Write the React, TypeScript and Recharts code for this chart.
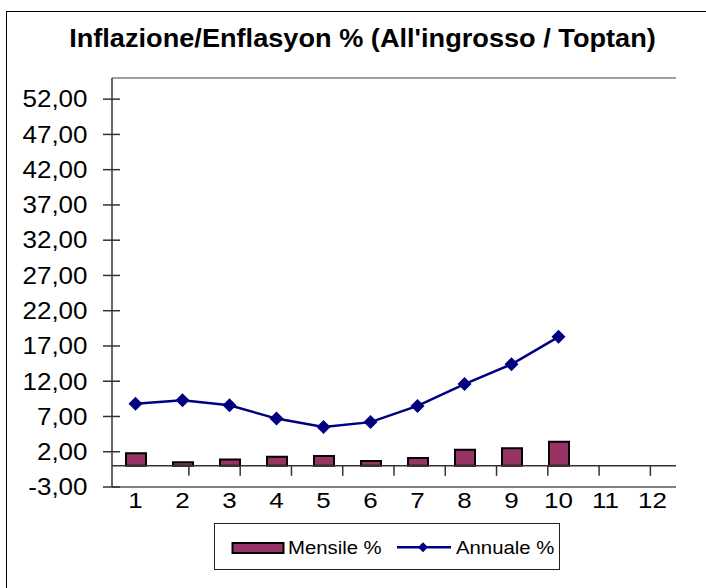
import { ComposedChart, Bar, Line, XAxis, YAxis, ReferenceLine, Legend } from 'recharts'

const months = ['1', '2', '3', '4', '5', '6', '7', '8', '9', '10', '11', '12']
const mensile = [1.8, 0.5, 0.9, 1.3, 1.4, 0.7, 1.1, 2.3, 2.5, 3.4, null, null]
const annuale = [8.8, 9.3, 8.6, 6.7, 5.5, 6.2, 8.5, 11.6, 14.4, 18.3, null, null]
const yTicks = [-3, 2, 7, 12, 17, 22, 27, 32, 37, 42, 47, 52]
const seriesNames = ['Mensile %', 'Annuale %']

const data = months.map((m, i) => ({ m, mensile: mensile[i], annuale: annuale[i] }))
// category boundaries, where Excel puts the x tick marks
const boundaries = months.map((_, i) => i + 1.5)

const FONT = '"Liberation Sans", Arial, sans-serif'
const BAR = '#993366'
const LINE = '#000080'

function fmt(v: number) {
  return v.toFixed(2).replace('.', ',')
}

function YTick(props: any) {
  const { x, y, payload } = props
  return (
    <g>
      <line x1={x - 9} x2={x + 8} y1={y} y2={y} stroke="#333" strokeWidth={1.5} />
      <text
        transform={`translate(${x - 24.5},${y + 8.3}) scale(1.13,1)`}
        textAnchor="end"
        fontSize={23}
        fontFamily={FONT}
        fill="#000"
      >
        {fmt(payload.value)}
      </text>
    </g>
  )
}

function XTick(props: any) {
  const { x, y, payload } = props
  return (
    <text
      transform={`translate(${x},${y + 20.5}) scale(1.18,1)`}
      textAnchor="middle"
      fontSize={22}
      fontFamily={FONT}
      fill="#000"
    >
      {payload.value}
    </text>
  )
}

function Diamond(props: any) {
  const { cx, cy } = props
  if (cx == null || cy == null || props.value == null) return null
  const r = 7
  return <polygon points={`${cx},${cy - r} ${cx + r},${cy} ${cx},${cy + r} ${cx - r},${cy}`} fill={LINE} />
}

function LegendBox() {
  return (
    <svg width={346} height={47} style={{ display: 'block' }}>
      <rect x={0.5} y={0.5} width={345} height={46} fill="#fff" stroke="#222" strokeWidth={1} />
      <rect x={18.5} y={20} width={51} height={10} fill={BAR} stroke="#000" strokeWidth={2} />
      <text transform="translate(74,30.5) scale(1.07,1)" fontSize={19} fontFamily={FONT} fill="#000">
        {seriesNames[0]}
      </text>
      <line x1={183} x2={237} y1={24.3} y2={24.3} stroke={LINE} strokeWidth={2.5} />
      <polygon points="209,19.3 214,24.3 209,29.3 204,24.3" fill={LINE} />
      <text transform="translate(242,30.5) scale(1.07,1)" fontSize={19} fontFamily={FONT} fill="#000">
        {seriesNames[1]}
      </text>
    </svg>
  )
}

export default function App() {
  return (
    <div style={{ position: 'fixed', left: 0, top: 0, width: 706, height: 588, background: '#fff', overflow: 'hidden' }}>
      <div
        style={{
          position: 'absolute', left: 6, top: 11, width: 700, height: 577,
          borderLeft: '1.5px solid #000', borderTop: '1.5px solid #000', boxSizing: 'border-box',
        }}
      />
      <div
        style={{
          position: 'absolute', left: 0, top: 22.7, width: 725, textAlign: 'center',
          fontFamily: FONT, fontWeight: 'bold', fontSize: 25.7, lineHeight: '30px',
          transform: 'scaleX(1.057)', transformOrigin: '362.5px 0',
        }}
      >
        Inflazione/Enflasyon % (All'ingrosso / Toptan)
      </div>
      <div style={{ position: 'absolute', left: 0, top: 0 }}>
        <ComposedChart width={706} height={588} data={data} margin={{ top: 78, right: 30, bottom: 61, left: 0 }}>
          <XAxis
            dataKey="m"
            height={40}
            axisLine={false}
            tickLine={false}
            tickSize={0}
            tickMargin={0}
            tick={<XTick />}
            interval={0}
          />
          <XAxis xAxisId="n" type="number" domain={[0.5, 12.5]} hide allowDataOverflow />
          <YAxis
            width={112}
            domain={[-3, 55]}
            ticks={yTicks}
            interval={0}
            allowDataOverflow
            axisLine={{ stroke: '#333', strokeWidth: 1.5 }}
            tickLine={false}
            tickSize={0}
            tickMargin={0}
            tick={<YTick />}
          />
          {/* plot area frame */}
          <ReferenceLine y={55} stroke="#808080" strokeWidth={1.5} />
          <ReferenceLine y={-3} stroke="#555" strokeWidth={1.5} />
          <ReferenceLine xAxisId="n" x={12.5} stroke="#808080" strokeWidth={1.5} />
          {/* zero axis with category tick marks */}
          <ReferenceLine y={0} stroke="#333" strokeWidth={1.5} />
          {boundaries.map((b) => (
            <ReferenceLine
              key={b}
              xAxisId="n"
              segment={[{ x: b, y: 0 }, { x: b, y: -1.42 }]}
              stroke="#333"
              strokeWidth={1.5}
            />
          ))}
          <Bar
            dataKey="mensile"
            name={seriesNames[0]}
            barSize={20}
            fill={BAR}
            stroke="#000"
            strokeWidth={2}
            isAnimationActive={false}
          />
          <Line
            dataKey="annuale"
            name={seriesNames[1]}
            stroke={LINE}
            strokeWidth={2.5}
            dot={<Diamond />}
            activeDot={false}
            isAnimationActive={false}
          />
          <Legend
            layout="horizontal"
            verticalAlign="middle"
            align="center"
            content={() => <LegendBox />}
            wrapperStyle={{ position: 'absolute', left: 214, top: 523, width: 346, height: 47 }}
          />
        </ComposedChart>
      </div>
    </div>
  )
}
